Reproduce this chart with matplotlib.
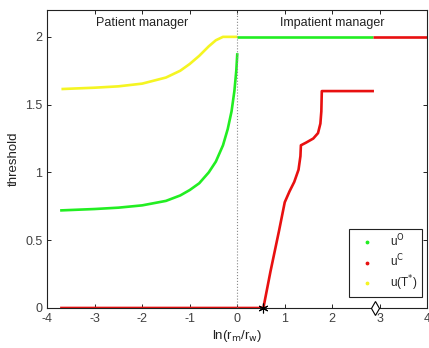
import numpy as np
import matplotlib
matplotlib.use('Agg')
import matplotlib.pyplot as plt

plt.rcParams['font.family'] = ['Liberation Sans', 'DejaVu Sans']
plt.rcParams['font.size'] = 9
plt.rcParams['axes.unicode_minus'] = False

# u(T*) - yellow, patient side
yel_x = [-3.7, -3.0, -2.5, -2.0, -1.5, -1.2, -1.0, -0.8, -0.6, -0.45, -0.3, 0.0]
yel_y = [1.615, 1.625, 1.635, 1.655, 1.70, 1.75, 1.80, 1.86, 1.93, 1.975, 2.0, 2.0]

# u^O - green, patient side (lower curve)
grn_x = [-3.7, -3.0, -2.5, -2.0, -1.5, -1.2, -1.0, -0.8, -0.6, -0.45, -0.3, -0.2, -0.12, -0.06, -0.02, 0.0]
grn_y = [0.72, 0.73, 0.74, 0.757, 0.79, 0.83, 0.87, 0.92, 1.0, 1.08, 1.2, 1.32, 1.45, 1.6, 1.75, 1.87]

# u^O - green, impatient side (top)
grn_top_x = [0.0, 2.85]
grn_top_y = [2.0, 2.0]

# u^C - red
red_top_x = [2.85, 4.0]
red_top_y = [2.0, 2.0]
red_x = [-3.7, 0.55, 0.7, 0.88, 1.0, 1.1, 1.2, 1.29, 1.33, 1.34, 1.45, 1.6, 1.7, 1.75, 1.77, 1.78, 2.1, 2.5, 2.85]
red_y = [0.0, 0.0, 0.27, 0.57, 0.78, 0.86, 0.93, 1.02, 1.12, 1.2, 1.22, 1.25, 1.29, 1.36, 1.45, 1.6, 1.6, 1.6, 1.6]

star_x, star_y = 0.55, 0.0
diam_x, diam_y = 2.9, 0.0

green = '#22ee22'
red = '#e81010'
yellow = '#f5f522'
text_color = '#404040'

fig = plt.figure(figsize=(4.29, 3.48), dpi=100)
ax = fig.add_axes([0.110, 0.115, 0.886, 0.857])

ax.plot(yel_x, yel_y, color=yellow, lw=1.9, solid_capstyle='butt')
ax.plot(grn_x, grn_y, color=green, lw=1.9)
ax.plot(grn_top_x, grn_top_y, color=green, lw=1.9, solid_capstyle='butt')
ax.plot(red_top_x, red_top_y, color=red, lw=1.9, solid_capstyle='butt')
ax.plot(red_x, red_y, color=red, lw=1.9)

ax.axvline(0, color='#888888', ls=':', lw=0.8)
ax.plot(star_x, star_y, marker=(6, 2, 0), color='black', ms=7, mew=0.8, clip_on=False, zorder=5)
ax.plot(diam_x, diam_y, marker='d', color='black', ms=7, mfc='white', mew=0.8, clip_on=False, zorder=5)

ax.text(-2.0, 2.1, 'Patient manager', ha='center', va='center', color='#222222')
ax.text(2.0, 2.1, 'Impatient manager', ha='center', va='center', color='#222222')

# legend handles
ax.plot([], [], ls='none', marker='.', ms=3.5, color=green, label='u$^{\\mathrm{O}}$')
ax.plot([], [], ls='none', marker='.', ms=3.5, color=red, label='u$^{\\mathrm{C}}$')
ax.plot([], [], ls='none', marker='.', ms=3.5, color=yellow, label='u(T$^{*}$)')
handles, labels = ax.get_legend_handles_labels()
leg = ax.legend(handles, labels, loc='lower right', bbox_to_anchor=(0.986, 0.037),
                fancybox=False, edgecolor='#222222', framealpha=1,
                handlelength=2.4, handletextpad=0.8, labelspacing=0.3, borderpad=0.35,
                borderaxespad=0, fontsize=8.5)
leg.get_frame().set_linewidth(0.8)
for t in leg.get_texts():
    t.set_color('#222222')

ax.set_xlim(-4, 4)
ax.set_ylim(0, 2.2)
ax.set_xticks(np.arange(-4, 5, 1))
ax.set_yticks([0, 0.5, 1, 1.5, 2])
ax.set_yticklabels(['0', '0.5', '1', '1.5', '2'])
ax.tick_params(direction='in', top=True, right=True, length=3, width=0.6,
               labelcolor=text_color, labelsize=9)
for s in ax.spines.values():
    s.set_linewidth(0.8)
    s.set_color('#222222')

ax.set_xlabel('ln(r$_{\\mathrm{m}}$/r$_{\\mathrm{w}}$)', fontsize=9.5, color='#222222', labelpad=2)
ax.set_ylabel('threshold', fontsize=9.5, color='#222222')

fig.savefig('out.png', dpi=100)
